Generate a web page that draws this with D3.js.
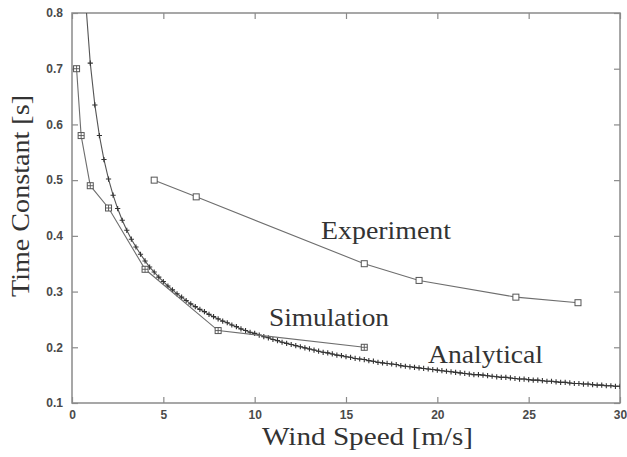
<!DOCTYPE html>
<html>
<head>
<meta charset="utf-8">
<script src="https://cdn.jsdelivr.net/npm/d3@7"></script>
<style>
  html, body { margin: 0; padding: 0; background: #fff; }
  svg { display: block; }
</style>
</head>
<body>
<svg id="chart" width="627" height="457"></svg>
<script>
// ---- Data ----
const xTicks = [0, 5, 10, 15, 20, 25, 30];
const yTicks = [0.1, 0.2, 0.3, 0.4, 0.5, 0.6, 0.7, 0.8];

const experimentSpeed = [4.5, 6.8, 16.0, 19.0, 24.3, 27.7];
const experimentTau   = [0.50, 0.47, 0.35, 0.32, 0.29, 0.28];

const simulationSpeed = [0.25, 0.5, 1.0, 2.0, 4.0, 8.0, 16.0];
const simulationTau   = [0.70, 0.58, 0.49, 0.45, 0.34, 0.23, 0.20];

const analyticalSpeed = [
  0.75, 1.00, 1.25, 1.50, 1.75, 2.00, 2.25, 2.50, 2.75, 3.00,
  3.25, 3.50, 3.75, 4.00, 4.25, 4.50, 4.75, 5.00, 5.25, 5.50,
  5.75, 6.00, 6.25, 6.50, 6.75, 7.00, 7.25, 7.50, 7.75, 8.00,
  8.25, 8.50, 8.75, 9.00, 9.25, 9.50, 9.75, 10.00, 10.25, 10.50,
  10.75, 11.00, 11.25, 11.50, 11.75, 12.00, 12.25, 12.50, 12.75, 13.00,
  13.25, 13.50, 13.75, 14.00, 14.25, 14.50, 14.75, 15.00, 15.25, 15.50,
  15.75, 16.00, 16.25, 16.50, 16.75, 17.00, 17.25, 17.50, 17.75, 18.00,
  18.25, 18.50, 18.75, 19.00, 19.25, 19.50, 19.75, 20.00, 20.25, 20.50,
  20.75, 21.00, 21.25, 21.50, 21.75, 22.00, 22.25, 22.50, 22.75, 23.00,
  23.25, 23.50, 23.75, 24.00, 24.25, 24.50, 24.75, 25.00, 25.25, 25.50,
  25.75, 26.00, 26.25, 26.50, 26.75, 27.00, 27.25, 27.50, 27.75, 28.00,
  28.25, 28.50, 28.75, 29.00, 29.25, 29.50, 29.75, 30.00
];
const analyticalTau = [
  0.820, 0.710, 0.635, 0.580, 0.537, 0.502, 0.473, 0.449, 0.428, 0.410,
  0.394, 0.380, 0.367, 0.355, 0.344, 0.335, 0.326, 0.318, 0.310, 0.303,
  0.296, 0.290, 0.284, 0.278, 0.273, 0.268, 0.264, 0.259, 0.255, 0.251,
  0.247, 0.244, 0.240, 0.237, 0.233, 0.230, 0.227, 0.225, 0.222, 0.219,
  0.217, 0.214, 0.212, 0.209, 0.207, 0.205, 0.203, 0.201, 0.199, 0.197,
  0.195, 0.193, 0.191, 0.190, 0.188, 0.186, 0.185, 0.183, 0.182, 0.180,
  0.179, 0.178, 0.176, 0.175, 0.173, 0.172, 0.171, 0.170, 0.169, 0.167,
  0.166, 0.165, 0.164, 0.163, 0.162, 0.161, 0.160, 0.159, 0.158, 0.157,
  0.156, 0.155, 0.154, 0.153, 0.152, 0.151, 0.151, 0.150, 0.149, 0.148,
  0.147, 0.146, 0.146, 0.145, 0.144, 0.143, 0.143, 0.142, 0.141, 0.141,
  0.140, 0.139, 0.139, 0.138, 0.137, 0.137, 0.136, 0.135, 0.135, 0.134,
  0.134, 0.133, 0.132, 0.132, 0.131, 0.131, 0.130, 0.130
];

const xTitle = "Wind Speed [m/s]";
const yTitle = "Time Constant [s]";
const seriesLabels = ["Experiment", "Simulation", "Analytical"];

// ---- Layout ----
const L = 72, R = 620, T = 13, B = 403;
const svg = d3.select("#chart");

const x = d3.scaleLinear().domain([0, 30]).range([L, R]);
const y = d3.scaleLinear().domain([0.1, 0.8]).range([B, T]);

svg.append("defs").append("clipPath").attr("id", "plotclip")
  .append("rect").attr("x", L).attr("y", T).attr("width", R - L).attr("height", B - T);

const axisColor = "#8a8a8a";
const tickFont = "'Liberation Sans', Arial, sans-serif";
const serif = "'Liberation Serif', 'Times New Roman', serif";

function styleAxis(g, showLabels) {
  g.select(".domain").remove();
  g.selectAll(".tick line").attr("stroke", axisColor).attr("stroke-width", 1.2);
  g.selectAll(".tick text")
    .attr("fill", "#4a4a4a")
    .style("font-family", tickFont)
    .style("font-weight", "bold")
    .style("font-size", "12px");
  if (!showLabels) g.selectAll(".tick text").remove();
}

svg.append("g").attr("transform", `translate(0,${B})`)
  .call(d3.axisBottom(x).tickValues(xTicks).tickSize(-6).tickPadding(7).tickFormat(d3.format("d")))
  .call(g => styleAxis(g, true));
svg.append("g").attr("transform", `translate(0,${T})`)
  .call(d3.axisTop(x).tickValues(xTicks).tickSize(-6).tickFormat(""))
  .call(g => styleAxis(g, false));
svg.append("g").attr("transform", `translate(${L},0)`)
  .call(d3.axisLeft(y).tickValues(yTicks).tickSize(-6).tickPadding(9).tickFormat(d3.format(".1f")))
  .call(g => styleAxis(g, true));
svg.append("g").attr("transform", `translate(${R},0)`)
  .call(d3.axisRight(y).tickValues(yTicks).tickSize(-6).tickFormat(""))
  .call(g => styleAxis(g, false));

// frame
svg.append("rect").attr("x", L).attr("y", T).attr("width", R - L).attr("height", B - T)
  .attr("fill", "none").attr("stroke", axisColor).attr("stroke-width", 1.5);

const plot = svg.append("g").attr("clip-path", "url(#plotclip)");
const line = d3.line().x(d => x(d[0])).y(d => y(d[1]));

const lineColor = "#6e6e6e";
const expData = experimentSpeed.map((v, i) => [v, experimentTau[i]]);
const simData = simulationSpeed.map((v, i) => [v, simulationTau[i]]);
const anaData = analyticalSpeed.map((v, i) => [v, analyticalTau[i]]);

// Analytical
plot.append("path").datum(anaData).attr("d", line)
  .attr("fill", "none").attr("stroke", "#555").attr("stroke-width", 1.1);
plot.selectAll(".ana").data(anaData).enter().append("path")
  .attr("class", "ana")
  .attr("d", d => { const cx = x(d[0]), cy = y(d[1]), s = 2.6;
    return `M${cx - s},${cy}H${cx + s}M${cx},${cy - s}V${cy + s}`; })
  .attr("stroke", "#333").attr("stroke-width", 1.1).attr("fill", "none");

// Simulation
plot.append("path").datum(simData).attr("d", line)
  .attr("fill", "none").attr("stroke", lineColor).attr("stroke-width", 1.1);
const simG = plot.selectAll(".sim").data(simData).enter().append("g")
  .attr("transform", d => `translate(${x(d[0])},${y(d[1])})`);
simG.append("rect").attr("x", -3).attr("y", -3).attr("width", 6).attr("height", 6)
  .attr("fill", "#fff").attr("stroke", "#555").attr("stroke-width", 1);
simG.append("path").attr("d", "M-3,0H3M0,-3V3").attr("stroke", "#555").attr("stroke-width", 0.9);

// Experiment
plot.append("path").datum(expData).attr("d", line)
  .attr("fill", "none").attr("stroke", lineColor).attr("stroke-width", 1.1);
plot.selectAll(".exp").data(expData).enter().append("rect")
  .attr("x", d => x(d[0]) - 3).attr("y", d => y(d[1]) - 3)
  .attr("width", 6).attr("height", 6)
  .attr("fill", "#fff").attr("stroke", "#555").attr("stroke-width", 1);

// Series labels
const labelPos = [
  { t: seriesLabels[0], x: 321, y: 239, w: 130 },
  { t: seriesLabels[1], x: 269, y: 326, w: 120 },
  { t: seriesLabels[2], x: 428, y: 363, w: 115 }
];
svg.selectAll(".slabel").data(labelPos).enter().append("text")
  .attr("x", d => d.x).attr("y", d => d.y)
  .attr("textLength", d => d.w).attr("lengthAdjust", "spacingAndGlyphs")
  .style("font-family", serif).style("font-size", "25px").attr("fill", "#333")
  .text(d => d.t);

// Axis titles
svg.append("text").attr("x", 262).attr("y", 445)
  .attr("textLength", 211).attr("lengthAdjust", "spacingAndGlyphs")
  .style("font-family", serif).style("font-size", "25px").attr("fill", "#333")
  .text(xTitle);
svg.append("text").attr("transform", "translate(29,297) rotate(-90)")
  .attr("x", 0).attr("y", 0)
  .attr("textLength", 202).attr("lengthAdjust", "spacingAndGlyphs")
  .style("font-family", serif).style("font-size", "26px").attr("fill", "#333")
  .text(yTitle);
</script>
</body>
</html>
